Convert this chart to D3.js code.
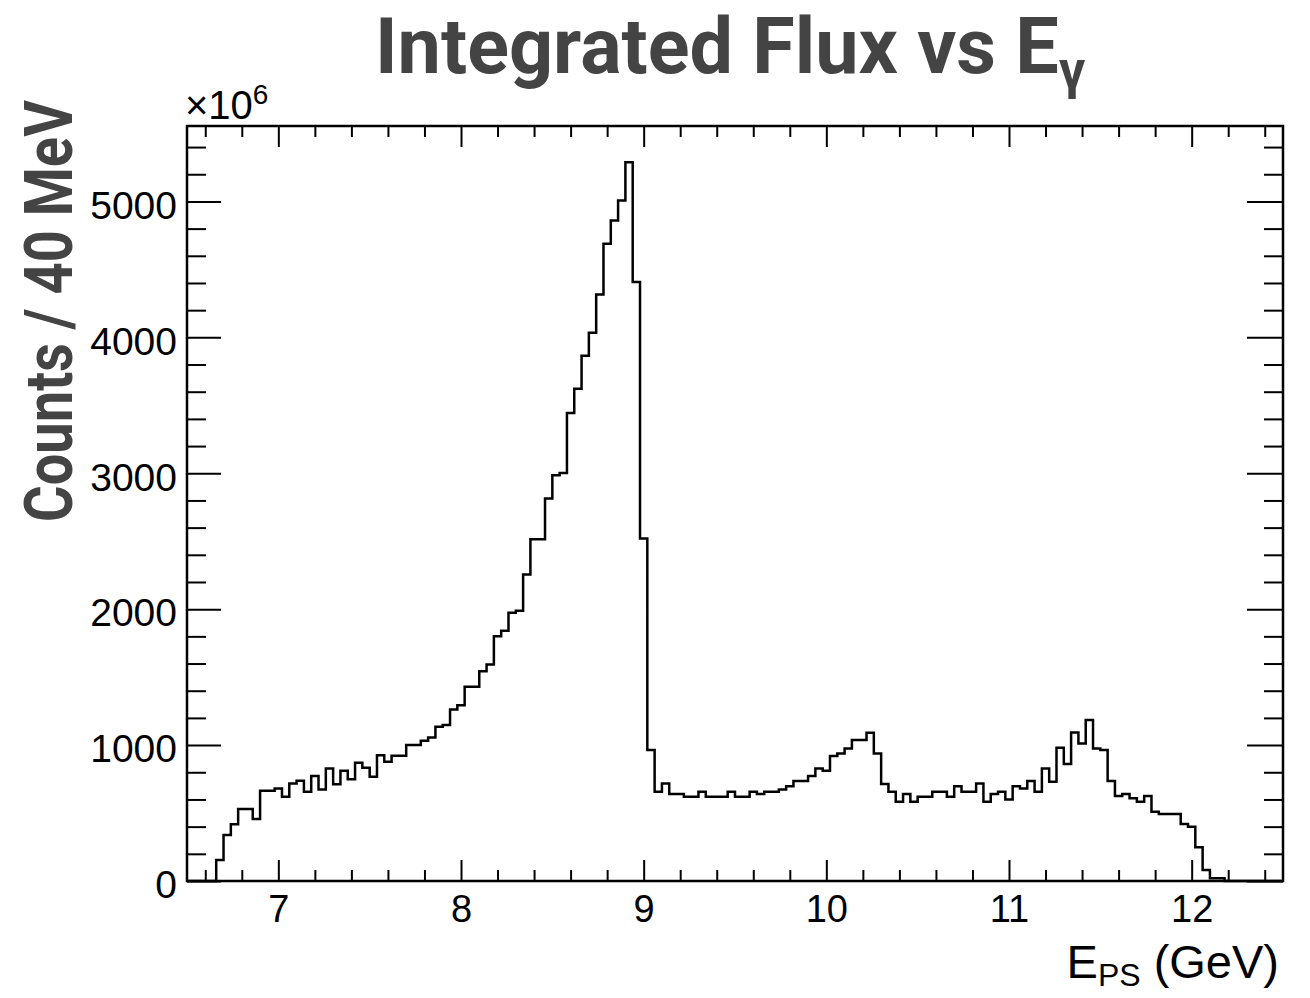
<!DOCTYPE html>
<html>
<head>
<meta charset="utf-8">
<script src="https://cdn.jsdelivr.net/npm/d3@7"></script>
<style>
  body { margin: 0; background: #fff; }
  svg { display: block; }
</style>
</head>
<body>
<div id="chart-area"></div>
<script>
// histogram: 40 MeV bins, first non-empty bin starts at 6.66 GeV
var binStart = 6.66;
var binWidth = 0.04;
var counts = [
  154, 338, 417, 529, 529, 456, 664, 664, 681, 620,
  718, 738, 657, 772, 674, 828, 711, 811, 748, 870,
  833, 767, 926, 877, 921, 921, 1000, 1000, 1032, 1056,
  1135, 1147, 1262, 1294, 1429, 1429, 1544, 1593, 1801, 1841,
  1973, 1988, 2255, 2515, 2515, 2814, 2985, 3002, 3443, 3622,
  3865, 4034, 4316, 4689, 4860, 5007, 5289, 4407, 2520, 963,
  657, 718, 640, 640, 620, 620, 657, 620, 620, 620,
  657, 620, 620, 657, 640, 657, 657, 674, 698, 735,
  735, 772, 828, 811, 919, 939, 975, 1037, 1037, 1091,
  939, 713, 657, 583, 640, 583, 620, 620, 657, 657,
  620, 698, 657, 657, 718, 583, 640, 657, 600, 698,
  681, 735, 657, 828, 730, 980, 860, 1093, 1012, 1184,
  975, 963, 735, 625, 640, 608, 583, 625, 510, 493,
  493, 493, 419, 400, 248, 81, 20, 20
];
var xMajor = [7, 8, 9, 10, 11, 12];
var yMajor = [0, 1000, 2000, 3000, 4000, 5000];
var xDomain = [6.5, 12.5];
var yDomain = [0, 5555];

var frame = { left: 187, right: 1283, top: 126, bottom: 881 };
var width = frame.right - frame.left,
    height = frame.bottom - frame.top;

var svg = d3.select("#chart-area")
    .append("svg")
        .attr("width", 1310)
        .attr("height", 998);

var g = svg.append("g")
    .attr("transform", "translate(" + frame.left + "," + frame.top + ")");

// scales
var x = d3.scaleLinear().domain(xDomain).range([0, width]);
var y = d3.scaleLinear().domain(yDomain).range([height, 0]);

var xMinor = d3.range(6.6, 12.45, 0.2).filter(function(v) {
    return Math.abs(v - Math.round(v)) > 0.01;
});
var yMinor = d3.range(200, 5500, 200).filter(function(v) { return v % 1000 !== 0; });

var labelFont = "'Liberation Sans', Arial, Helvetica, sans-serif";

function styleAxis(sel) {
    sel.select(".domain").remove();
    sel.selectAll("line").attr("stroke", "#000").attr("stroke-width", 2);
    sel.selectAll("text")
        .attr("fill", "#000")
        .attr("font-family", labelFont)
        .attr("font-size", "38px");
}

// bottom axis (ticks point inward)
g.append("g")
    .attr("transform", "translate(0," + height + ")")
    .call(d3.axisBottom(x).tickValues(xMajor).tickSize(-21).tickPadding(14).tickFormat(d3.format("d")))
    .call(styleAxis);
g.append("g")
    .attr("transform", "translate(0," + height + ")")
    .call(d3.axisBottom(x).tickValues(xMinor).tickSize(-11).tickFormat(""))
    .call(styleAxis);
// top mirror ticks
g.append("g")
    .call(d3.axisTop(x).tickValues(xMajor).tickSize(-21).tickFormat(""))
    .call(styleAxis);
g.append("g")
    .call(d3.axisTop(x).tickValues(xMinor).tickSize(-11).tickFormat(""))
    .call(styleAxis);

// left axis
var yAxis = g.append("g")
    .call(d3.axisLeft(y).tickValues(yMajor).tickSize(-34).tickPadding(10).tickFormat(d3.format("d")))
    .call(styleAxis);
yAxis.selectAll("text").attr("dy", "0.43em").attr("font-size", "39px");
g.append("g")
    .call(d3.axisLeft(y).tickValues(yMinor).tickSize(-19).tickFormat(""))
    .call(styleAxis);
// right mirror ticks
g.append("g")
    .attr("transform", "translate(" + width + ",0)")
    .call(d3.axisRight(y).tickValues(yMajor).tickSize(-36).tickFormat(""))
    .call(styleAxis);
g.append("g")
    .attr("transform", "translate(" + width + ",0)")
    .call(d3.axisRight(y).tickValues(yMinor).tickSize(-19).tickFormat(""))
    .call(styleAxis);

// histogram outline
var pts = [[xDomain[0], 0], [binStart, 0]];
counts.forEach(function(c, i) {
    pts.push([binStart + i * binWidth, c]);
});
var lastEdge = binStart + counts.length * binWidth;
pts.push([lastEdge, counts[counts.length - 1]]);
pts.push([lastEdge, 0]);
pts.push([xDomain[1], 0]);

var line = d3.line()
    .x(function(d) { return x(d[0]); })
    .y(function(d) { return y(d[1]); })
    .curve(d3.curveStepAfter);

g.append("path")
    .datum(pts)
    .attr("fill", "none")
    .attr("stroke", "#000")
    .attr("stroke-width", 2.5)
    .attr("stroke-linejoin", "miter")
    .attr("d", line);

// frame
g.append("rect")
    .attr("width", width)
    .attr("height", height)
    .attr("fill", "none")
    .attr("stroke", "#000")
    .attr("stroke-width", 2.5);

// exponent label
var expo = svg.append("text")
    .attr("x", frame.left - 2)
    .attr("y", 119)
    .attr("font-family", labelFont)
    .attr("font-size", "40px")
    .attr("fill", "#000");
expo.append("tspan").text("\u00d710");
expo.append("tspan").attr("dy", -15).attr("font-size", "28px").text("6");

// x title
var xTitle = svg.append("text")
    .attr("x", 1279)
    .attr("y", 978)
    .attr("text-anchor", "end")
    .attr("font-family", labelFont)
    .attr("font-size", "47px")
    .attr("fill", "#000");
xTitle.append("tspan").text("E");
xTitle.append("tspan").attr("dy", 8).attr("font-size", "32px").text("PS");
xTitle.append("tspan").attr("dy", -8).text(" (GeV)");

// condensed bold titles: squeeze a bold face to the measured width
var titleFont = "Roboto, 'DejaVu Sans', sans-serif";

function squeeze(sel, targetWidth) {
    var w = sel.node().getBBox().width;
    return targetWidth / w;
}

var title = svg.append("text")
    .attr("font-family", titleFont)
    .attr("font-weight", 700)
    .attr("font-size", "77px")
    .attr("fill", "#444");
title.append("tspan").text("Integrated Flux vs E");
title.append("tspan").attr("dy", 15).attr("font-size", "52px").text("\u03b3");
var sx = squeeze(title, 711);
title.attr("transform", "translate(375,73) scale(" + sx + ",1)");

var yTitle = svg.append("text")
    .attr("font-family", titleFont)
    .attr("font-weight", 700)
    .attr("font-size", "67px")
    .attr("fill", "#444")
    .text("Counts / 40 MeV");
var sy = squeeze(yTitle, 422);
yTitle.attr("transform", "translate(72,522) rotate(-90) scale(" + sy + ",1)");
</script>
</body>
</html>
